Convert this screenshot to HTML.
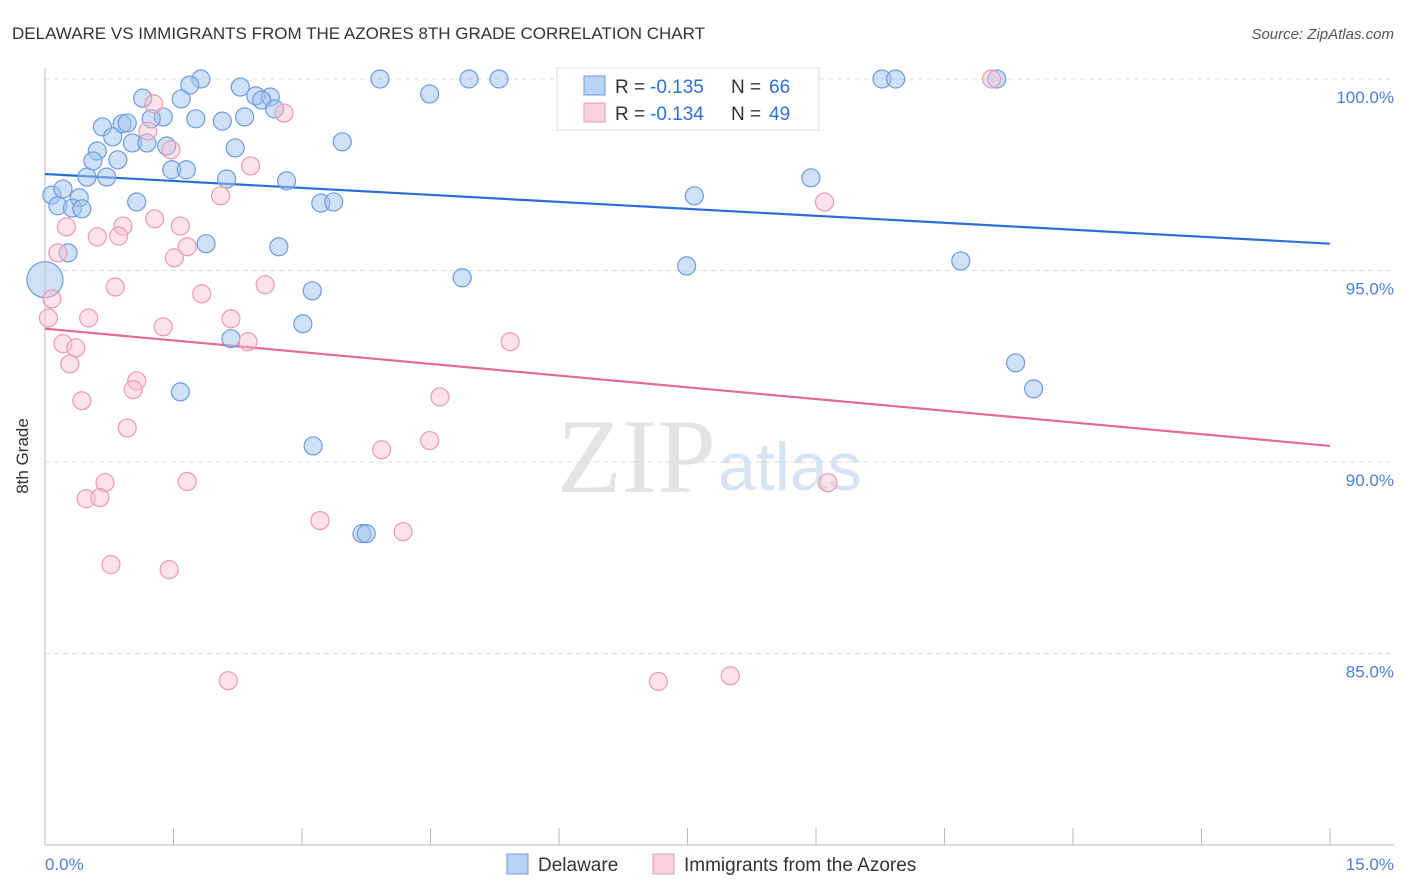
<!DOCTYPE html>
<html><head><meta charset="utf-8"><style>
body{margin:0;background:#fff;font-family:"Liberation Sans",sans-serif;}
svg{display:block}
</style></head><body>
<svg id="chart" width="1406" height="892" xmlns="http://www.w3.org/2000/svg">
<text x="12" y="39" font-size="17" fill="#333">DELAWARE VS IMMIGRANTS FROM THE AZORES 8TH GRADE CORRELATION CHART</text>
<text x="1394" y="39" font-size="15" fill="#555" font-style="italic" text-anchor="end">Source: ZipAtlas.com</text>
<text x="716" y="492" font-size="106" fill="#e4e4e4" text-anchor="end" font-family="Liberation Serif, serif">ZIP</text>
<text x="718" y="490" font-size="68" fill="#d6e4f6">atlas</text>
<g id="grid"></g>
<g id="axes"></g>
<g id="lines"></g>
<g id="points"></g>
<text x="28" y="456" font-size="17" fill="#333" transform="rotate(-90 28 456)" text-anchor="middle">8th Grade</text>
<text x="45" y="870" font-size="17" fill="#4a7fd4">0.0%</text>
<text x="1394" y="870" font-size="17" fill="#4a7fd4" text-anchor="end">15.0%</text>
<g>
<rect x="557" y="68" width="262" height="62" fill="#fff" stroke="#ddd"/>
<rect x="584" y="76" width="21" height="19" fill="#b9d3f5" stroke="#6d9be0"/>
<rect x="584" y="103" width="21" height="19" fill="#fbcfdc" stroke="#eb9ab2"/>
<text y="93" font-size="19" fill="#333"><tspan x="615">R =</tspan><tspan x="650" fill="#2f6fd0">-0.135</tspan><tspan x="731">N =</tspan><tspan x="769" fill="#2f6fd0">66</tspan></text>
<text y="120" font-size="19" fill="#333"><tspan x="615">R =</tspan><tspan x="650" fill="#2f6fd0">-0.134</tspan><tspan x="731">N =</tspan><tspan x="769" fill="#2f6fd0">49</tspan></text>
</g>
<g>
<rect x="507" y="854" width="21" height="20" fill="#b9d3f5" stroke="#6d9be0"/>
<text x="538" y="871" font-size="19" fill="#333">Delaware</text>
<rect x="653" y="854" width="21" height="20" fill="#fbcfdc" stroke="#eb9ab2"/>
<text x="684" y="871" font-size="19" fill="#333">Immigrants from the Azores</text>
</g>
</svg>
<script>
const yTicks=[100,95,90,85];
const yTickLabels=["100.0%","95.0%","90.0%","85.0%"];
const xTicks=[0,1.5,3,4.5,6,7.5,9,10.5,12,13.5,15];
const delX=[1.82,3.91,4.95,5.30,9.77,9.93,11.11,1.69,2.28,4.49,1.14,1.59,2.46,2.63,2.53,2.68,1.38,1.24,1.76,2.07,2.33,0.67,0.90,0.96,0.79,1.02,1.19,1.42,3.47,2.22,0.61,0.56,0.85,1.48,1.65,0.49,0.72,2.12,2.82,8.94,0.08,0.21,0.40,1.07,3.22,3.37,7.58,0.15,0.32,0.43,1.88,2.73,0.27,7.49,10.69,4.87,0,3.12,3.01,2.17,11.33,11.54,1.58,3.13,3.70,3.75];
const delY=[100,100,100,100,100,100,100,99.84,99.79,99.61,99.50,99.48,99.56,99.53,99.45,99.22,99.01,98.96,98.96,98.90,99.01,98.75,98.83,98.85,98.49,98.33,98.33,98.25,98.36,98.20,98.12,97.86,97.89,97.63,97.63,97.44,97.44,97.39,97.34,97.42,96.97,97.13,96.90,96.79,96.76,96.79,96.95,96.69,96.63,96.61,95.70,95.62,95.46,95.12,95.25,94.81,94.76,94.47,93.61,93.22,92.59,91.91,91.83,90.42,88.13,88.13];
const delSize=delX.map((v,i)=>i===56?2:1);
const azX=[11.05,1.27,2.79,1.20,1.47,2.40,2.05,9.10,1.28,0.91,1.58,0.25,0.61,0.86,1.66,0.15,1.51,0.08,0.82,2.57,1.83,0.04,0.51,2.17,1.38,2.37,0.21,0.36,5.43,0.29,1.07,1.03,0.43,4.61,0.96,4.49,3.93,0.70,1.66,9.14,0.48,0.64,3.21,4.18,0.77,1.45,2.14,7.16,8.00];
const azY=[100,99.35,99.11,98.64,98.15,97.73,96.95,96.79,96.35,96.16,96.16,96.14,95.88,95.90,95.62,95.46,95.33,94.26,94.57,94.63,94.39,93.76,93.76,93.74,93.53,93.14,93.09,92.98,93.14,92.56,92.12,91.89,91.60,91.70,90.89,90.56,90.32,89.46,89.49,89.46,89.04,89.07,88.47,88.18,87.32,87.19,84.29,84.27,84.42];
const delTrend=[97.52,95.70];
const azTrend=[93.48,90.42];
const X0=45,X1=1330,Y0=845,Y1=79;
const sx=v=>X0+(v/15)*(X1-X0);
const sy=v=>Y0-(v-80)/20*(Y0-Y1);
const NS="http://www.w3.org/2000/svg";
function mk(tag,attrs,parent){const e=document.createElementNS(NS,tag);for(const k in attrs)e.setAttribute(k,attrs[k]);parent.appendChild(e);return e;}
const grid=document.getElementById('grid'),axes=document.getElementById('axes'),lines=document.getElementById('lines'),pts=document.getElementById('points');
yTicks.forEach((t,i)=>{
 const l=mk('line',{x1:X0,x2:1394,y1:sy(t),y2:sy(t),stroke:'#ddd','stroke-dasharray':'5,4'},grid);
 
 
 const tx=mk('text',{x:1394,y:sy(t)+24,'font-size':17,fill:'#4a7fd4','text-anchor':'end'},grid);
 tx.textContent=yTickLabels[i];
 
 
});
const ya=mk('line',{x1:X0,x2:X0,y1:68,y2:Y0,stroke:'#bbb'},axes);


const xa=mk('line',{x1:X0,x2:1394,y1:Y0,y2:Y0,stroke:'#bbb'},axes);


xTicks.forEach(t=>{
 const tk=mk('line',{x1:sx(t),x2:sx(t),y1:828,y2:Y0,stroke:'#bbb'},axes);
 
 
});
delX.forEach((x,i)=>{
 const c=mk('circle',{cx:sx(x),cy:sy(delY[i]),r:9*delSize[i],fill:'rgba(160,196,240,0.5)',stroke:'#6d9be0','stroke-width':1.2},pts);
 
 
});
azX.forEach((x,i)=>{
 const c=mk('circle',{cx:sx(x),cy:sy(azY[i]),r:9,fill:'rgba(250,190,208,0.45)',stroke:'#eb9ab2','stroke-width':1.2},pts);
 
 
});
const bl=mk('line',{x1:sx(0),x2:sx(15),y1:sy(delTrend[0]),y2:sy(delTrend[1]),stroke:'#2a6fd6','stroke-width':2.2},lines);


const pl=mk('line',{x1:sx(0),x2:sx(15),y1:sy(azTrend[0]),y2:sy(azTrend[1]),stroke:'#e76a94','stroke-width':2.2},lines);


</script>
</body></html>
